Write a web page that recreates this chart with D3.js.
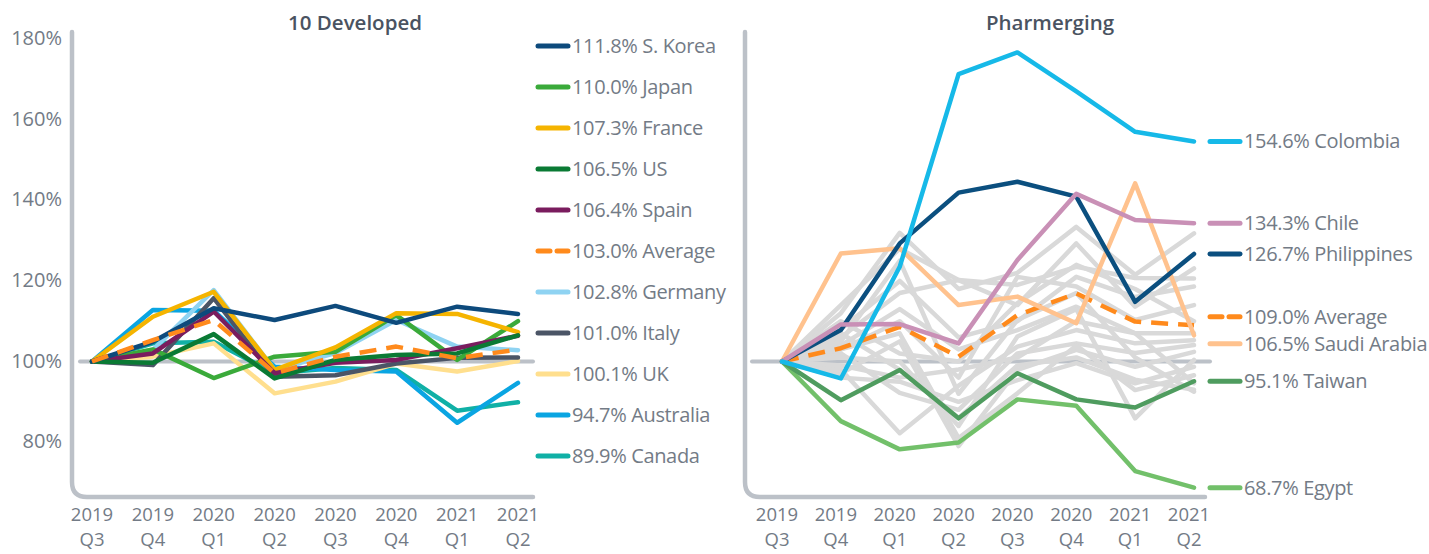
<!DOCTYPE html>
<html>
<head>
<meta charset="utf-8">
<script src="https://cdn.jsdelivr.net/npm/d3@7"></script>
<style>
  html, body { margin: 0; padding: 0; background: #ffffff; }
  svg { display: block; font-family: "Open Sans", "Noto Sans", sans-serif; }
</style>
</head>
<body>
<svg id="chart" width="1429" height="554"></svg>
<script>
// ---------------- DATA ----------------
const quarters = ["2019 Q3", "2019 Q4", "2020 Q1", "2020 Q2", "2020 Q3", "2020 Q4", "2021 Q1", "2021 Q2"];
const yTicks = [80, 100, 120, 140, 160, 180];

const devNames  = ["S. Korea", "Japan", "France", "US", "Spain", "Average", "Germany", "Italy", "UK", "Australia", "Canada"];
const devColors = ["#0d4a7c", "#3aaa3a", "#f5b400", "#0a7a34", "#7a1c5e", "#ff8a1c", "#8fd3f2", "#4b5566", "#ffdf8e", "#0aa5e2", "#10b0a6"];
const sKorea    = [100, 104.9, 113.2, 110.3, 113.8, 109.6, 113.6, 111.8];
const japan     = [100, 103.0, 95.9, 101.2, 102.4, 111.5, 100.4, 110.0];
const france    = [100, 111.1, 117.3, 97.9, 103.5, 112.0, 111.8, 107.3];
const us        = [100, 99.7, 106.8, 95.8, 100.4, 101.6, 102.0, 106.5];
const spain     = [100, 102.0, 112.4, 97.1, 99.7, 100.4, 103.3, 106.4];
const devAvg    = [100, 105.3, 110.3, 97.1, 101.2, 103.7, 100.8, 103.0];
const germany   = [100, 102.9, 117.7, 97.9, 102.1, 110.3, 103.7, 102.8];
const italy     = [100, 99.1, 115.7, 96.2, 96.6, 99.5, 100.9, 101.0];
const uk        = [100, 101.2, 104.5, 92.1, 95.0, 99.5, 97.5, 100.1];
const australia = [100, 112.8, 112.6, 98.7, 97.9, 97.5, 84.8, 94.7];
const canada    = [100, 104.5, 104.9, 97.1, 98.4, 97.9, 87.8, 89.9];
const devSeries = [sKorea, japan, france, us, spain, devAvg, germany, italy, uk, australia, canada];

const phNames  = ["Colombia", "Chile", "Philippines", "Average", "Saudi Arabia", "Taiwan", "Egypt"];
const phColors = ["#16b9e8", "#c990b6", "#0b4f7f", "#ff8a1c", "#ffc28e", "#4f9c5f", "#72c06a"];
const colombia    = [100, 95.8, 123.5, 171.3, 176.7, 167.0, 157.0, 154.6];
const chile       = [100, 109.2, 109.3, 104.5, 125.2, 141.6, 135.1, 134.3];
const philippines = [100, 107.8, 129.3, 141.9, 144.6, 140.9, 114.8, 126.7];
const phAvg       = [100, 103.3, 108.6, 101.2, 111.5, 116.9, 109.9, 109.0];
const saudi       = [100, 126.8, 128.1, 114.0, 116.1, 109.5, 144.2, 106.5];
const taiwan      = [100, 90.4, 97.9, 85.9, 97.1, 90.6, 88.6, 95.1];
const egypt       = [100, 85.2, 78.2, 79.9, 90.6, 89.0, 72.8, 68.7];
const phSeries = [colombia, chile, philippines, phAvg, saudi, taiwan, egypt];

// other Pharmerging markets (unlabelled, grey)
const grey1  = [100, 112, 131.9, 118, 122, 133.4, 121.5, 131.8];
const grey2  = [100, 114, 128, 120.2, 114, 129.3, 113.6, 123.1];
const grey3  = [100, 106, 117, 120.2, 119, 123.5, 120.7, 120.6];
const grey4  = [100, 108, 120, 106, 110, 121, 116, 118.6];
const grey5  = [100, 103, 110, 96, 121, 118.6, 110.3, 114];
const grey6  = [100, 104, 113, 103, 107.8, 113.6, 107, 107];
const grey7  = [100, 98, 82.2, 94, 103.7, 107.8, 104.5, 105.3];
const grey8  = [100, 102, 92.2, 88, 102, 104.5, 102.1, 104.1];
const grey9  = [100, 97, 105, 79, 97.9, 102.9, 98.7, 102.4];
const grey10 = [100, 101, 100, 84, 106.2, 113, 85.9, 100.4];
const grey11 = [100, 96, 95, 90, 95.4, 99.6, 94.6, 98.7];
const grey12 = [100, 103, 107, 81, 92.1, 104, 92.9, 96.6];
const grey13 = [100, 99, 96, 98, 101, 110, 107, 94.6];
const grey14 = [100, 105, 125, 92, 110.3, 117, 101, 92.5];
const grey15 = [100, 110, 102, 100, 114.5, 124, 118, 110];
const grey16 = [100, 107, 98, 86, 99, 101, 95.5, 93];
const greySeries = [grey1, grey2, grey3, grey4, grey5, grey6, grey7, grey8, grey9, grey10, grey11, grey12, grey13, grey14, grey15, grey16];

// ---------------- DRAW ----------------
const svg = d3.select("#chart");
const axisGrey = "#bcc1c8";
const textGrey = "#737b86";
const titleCol = "#4a5361";

const y = d3.scaleLinear().domain([80, 180]).range([442.1, 39.1]);
const xL = d3.scalePoint().domain(quarters).range([92, 518]);
const xR = d3.scalePoint().domain(quarters).range([782, 1194]);

function frame(x0, x1) {
  svg.append("path")
    .attr("d", `M${x0},32 V482 Q${x0},497 ${x0 + 15},497 H${x1}`)
    .attr("fill", "none").attr("stroke", axisGrey).attr("stroke-width", 4.5)
    .attr("stroke-linecap", "round");
}
function refLine(x0, x1) {
  svg.append("line")
    .attr("x1", x0).attr("x2", x1).attr("y1", y(100)).attr("y2", y(100))
    .attr("stroke", axisGrey).attr("stroke-width", 4).attr("stroke-linecap", "round");
}
function xLabels(xs, off) {
  const g = svg.append("g").attr("fill", textGrey).attr("font-size", 18.5)
    .attr("text-anchor", "middle");
  quarters.forEach(q => {
    const [yr, qq] = q.split(" ");
    g.append("text").attr("x", xs(q) + off).attr("y", 521).text(yr);
    g.append("text").attr("x", xs(q) + off).attr("y", 546).text(qq);
  });
}
function title(txt, cx) {
  svg.append("text").attr("x", cx).attr("y", 30).attr("text-anchor", "middle")
    .attr("font-size", 20.5).attr("font-weight", 600).attr("fill", titleCol).text(txt);
}
const line = xs => d3.line().x((d, i) => xs(quarters[i])).y(d => y(d));

function drawSeries(xs, data, color, dashed, w) {
  svg.append("path").datum(data)
    .attr("d", line(xs))
    .attr("fill", "none").attr("stroke", color).attr("stroke-width", w || 4.5)
    .attr("stroke-linejoin", "round")
    .attr("stroke-linecap", dashed ? "butt" : "round")
    .attr("stroke-dasharray", dashed ? "17,10" : null);
}
function legendItem(x, yy, color, dashed, txt) {
  if (dashed) {
    svg.append("line").attr("x1", x).attr("x2", x + 12).attr("y1", yy).attr("y2", yy)
      .attr("stroke", color).attr("stroke-width", 5).attr("stroke-linecap", "round");
    svg.append("line").attr("x1", x + 19).attr("x2", x + 30).attr("y1", yy).attr("y2", yy)
      .attr("stroke", color).attr("stroke-width", 5).attr("stroke-linecap", "round");
  } else {
    svg.append("line").attr("x1", x).attr("x2", x + 30).attr("y1", yy).attr("y2", yy)
      .attr("stroke", color).attr("stroke-width", 5).attr("stroke-linecap", "round");
  }
  svg.append("text").attr("x", x + 34).attr("y", yy).attr("dy", "0.35em")
    .attr("font-size", 20).attr("letter-spacing", -0.35).attr("fill", textGrey).text(txt);
}

// ---- Left: 10 Developed ----
frame(72, 533);
title("10 Developed", 355);
yTicks.forEach(t => {
  svg.append("text").attr("x", 62).attr("y", y(t)).attr("dy", "0.3em")
    .attr("text-anchor", "end").attr("font-size", 20).attr("fill", textGrey)
    .text(t + "%");
});
refLine(80, 533);
xLabels(xL, 0);

const devOrder = [10, 9, 8, 7, 6, 1, 2, 4, 3, 0, 5];
devOrder.forEach(i => drawSeries(xL, devSeries[i], devColors[i], devNames[i] === "Average"));
devNames.forEach((n, i) => {
  const v = devSeries[i][devSeries[i].length - 1];
  legendItem(538, 46 + 41 * i, devColors[i], n === "Average", v.toFixed(1) + "% " + n);
});

// ---- Right: Pharmerging ----
frame(745, 1205);
title("Pharmerging", 1050);
refLine(752, 1210);
xLabels(xR, -5);

greySeries.forEach(s => drawSeries(xR, s, "#d9d9d9", false, 4.5));
const phOrder = [6, 5, 3, 4, 2, 1, 0];
phOrder.forEach(i => drawSeries(xR, phSeries[i], phColors[i], phNames[i] === "Average"));

// right-hand labels placed at end values, pushed apart where they collide
const labs = phNames.map((n, i) => {
  const v = phSeries[i][phSeries[i].length - 1];
  return { n, i, v, yy: y(v) };
}).sort((a, b) => a.yy - b.yy);
const gap = 27;
for (let k = 0; k < 60; k++) {
  for (let j = 1; j < labs.length; j++) {
    const d = labs[j].yy - labs[j - 1].yy;
    if (d < gap) {
      const m = (gap - d) / 2;
      labs[j - 1].yy -= m; labs[j].yy += m;
    }
  }
}
labs.forEach(l => legendItem(1210, l.yy, phColors[l.i], l.n === "Average", l.v.toFixed(1) + "% " + l.n));
</script>
</body>
</html>
